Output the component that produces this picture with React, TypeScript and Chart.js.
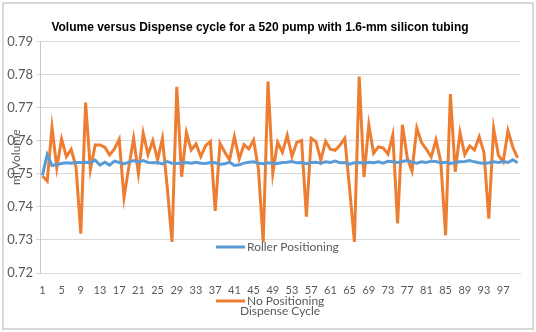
import React, { useEffect, useRef } from "react";
import { Chart, registerables } from "chart.js";

Chart.register(...registerables);

const TITLE = "Volume versus Dispense cycle for a 520 pump with 1.6-mm silicon tubing";
const X_TITLE = "Dispense Cycle";
const Y_TITLE = "ml Volume";

const cycles: string[] = Array.from({ length: 100 }, (_, i) => String(i + 1));

const rollerPositioning: number[] = [
  0.7495, 0.7558, 0.7525, 0.7528, 0.7531, 0.7533, 0.7532, 0.7534, 0.7534, 0.7535,
  0.7534, 0.7541, 0.7526, 0.7535, 0.7526, 0.7538, 0.7534, 0.753, 0.7535, 0.754,
  0.7536, 0.754, 0.7534, 0.7533, 0.7534, 0.753, 0.7537, 0.7532, 0.7531, 0.7533,
  0.7534, 0.7532, 0.7535, 0.7532, 0.7531, 0.7534, 0.7533, 0.7529, 0.753, 0.7535,
  0.7525, 0.7527, 0.7532, 0.7535, 0.7536, 0.7532, 0.753, 0.7533, 0.7532, 0.7531,
  0.7534, 0.7535, 0.7537, 0.7533, 0.7534, 0.753, 0.7534, 0.7535, 0.7532, 0.7536,
  0.7534, 0.7538, 0.7533, 0.7534, 0.7529, 0.7533, 0.7534, 0.7532, 0.7535, 0.7533,
  0.7536, 0.7532, 0.7538, 0.7536, 0.7534, 0.7537, 0.754, 0.7535, 0.7532, 0.7536,
  0.7534, 0.7538, 0.7537, 0.7533, 0.7535, 0.7531, 0.7534, 0.7536, 0.7537, 0.754,
  0.7536, 0.7533, 0.7531, 0.7533, 0.7536, 0.7534, 0.7537, 0.7534, 0.7542, 0.7533,
];

const noPositioning: number[] = [
  0.7493, 0.7478, 0.764, 0.7518, 0.7605, 0.7552, 0.7574, 0.7521, 0.7319, 0.7715,
  0.7513, 0.7587, 0.7587, 0.758, 0.7557, 0.7575, 0.7604, 0.7428, 0.752, 0.7607,
  0.7501, 0.7623, 0.7558, 0.76, 0.7542, 0.7607, 0.746, 0.7294, 0.7763, 0.7491,
  0.7624, 0.7572, 0.759, 0.7552, 0.7585, 0.7598, 0.7388, 0.7592, 0.7565, 0.7542,
  0.7612, 0.7545, 0.7588, 0.7575, 0.7602, 0.7515, 0.7293, 0.7779, 0.7502, 0.7595,
  0.7565, 0.7616, 0.7552, 0.7595, 0.7601, 0.737, 0.7607, 0.7597, 0.7541, 0.7598,
  0.7574, 0.7571, 0.7587, 0.7607, 0.7455, 0.7294, 0.7794, 0.749, 0.7648, 0.7562,
  0.7581, 0.7578, 0.7559, 0.7617, 0.735, 0.7648, 0.7549, 0.7508, 0.7638, 0.7594,
  0.7574, 0.7551, 0.7602, 0.7536, 0.7314, 0.7741, 0.7506, 0.7624, 0.7558, 0.7584,
  0.7572, 0.7612, 0.7564, 0.7364, 0.7637, 0.7556, 0.7536, 0.763, 0.758, 0.7548,
];

const Y_MIN = 0.72;
const Y_MAX = 0.79;
const Y_STEP = 0.01;
const X_LABEL_EVERY = 4;

const BLUE = "#5B9BD5";
const ORANGE = "#ED7D31";
const TEXT = "#595959";
const FONT = "Lato, 'Open Sans', sans-serif";

const decorPlugin = {
  id: "decor",
  beforeDraw(chart: any) {
    const { ctx, width, height } = chart;
    ctx.save();
    ctx.fillStyle = "#ffffff";
    ctx.fillRect(0, 0, width, height);
    ctx.strokeStyle = "#d9d9d9";
    ctx.lineWidth = 2;
    ctx.strokeRect(3, 3, width - 6, height - 6);
    ctx.restore();
  },
  afterDraw(chart: any) {
    const { ctx, chartArea } = chart;
    const cx = (chartArea.left + chartArea.right) / 2;
    const cy = (chartArea.top + chartArea.bottom) / 2;
    ctx.save();
    ctx.font = `12px ${FONT}`;
    ctx.fillStyle = TEXT;
    ctx.textBaseline = "middle";
    const items = [
      { label: "Roller Positioning", color: BLUE, y: 247 },
      { label: "No Positioning", color: ORANGE, y: 301 },
    ];
    items.forEach((it) => {
      ctx.strokeStyle = it.color;
      ctx.lineWidth = 3;
      ctx.beginPath();
      ctx.moveTo(216, it.y);
      ctx.lineTo(245, it.y);
      ctx.stroke();
      ctx.textAlign = "left";
      ctx.fillText(it.label, 247, it.y);
    });
    ctx.textAlign = "center";
    ctx.fillText(X_TITLE, cx, 311);
    ctx.translate(16, cy);
    ctx.rotate(-Math.PI / 2);
    ctx.fillText(Y_TITLE, 0, 0);
    ctx.restore();
  },
};

export default function App() {
  const ref = useRef<HTMLCanvasElement>(null);
  useEffect(() => {
    document.body.style.margin = "0";
    const chart = new Chart(ref.current!, {
      type: "line",
      data: {
        labels: cycles,
        datasets: [
          {
            label: "Roller Positioning",
            data: rollerPositioning,
            borderColor: BLUE,
            backgroundColor: BLUE,
            borderWidth: 3,
            pointRadius: 0,
            tension: 0,
          },
          {
            label: "No Positioning",
            data: noPositioning,
            borderColor: ORANGE,
            backgroundColor: ORANGE,
            borderWidth: 3,
            pointRadius: 0,
            tension: 0,
          },
        ],
      },
      options: {
        animation: false,
        responsive: false,
        layout: { padding: { left: 0, right: 16, top: 0, bottom: 0 } },
        plugins: {
          legend: { display: false },
          tooltip: { enabled: false },
          title: {
            display: true,
            text: TITLE,
            color: "#000000",
            font: { family: "'Liberation Sans', Arial, sans-serif", size: 12, weight: "bold" },
            padding: { top: 20, bottom: 7 },
          },
        },
        scales: {
          x: {
            offset: true,
            grid: { display: false, drawTicks: false },
            border: { display: true, color: "#d9d9d9", width: 1 },
            ticks: {
              autoSkip: false,
              maxRotation: 0,
              padding: 11,
              color: TEXT,
              font: { family: FONT, size: 11 },
              callback: (_v: any, i: number) => (i % X_LABEL_EVERY === 0 ? cycles[i] : ""),
            },
            afterFit: (s: any) => {
              s.height = 59;
            },
          },
          y: {
            min: Y_MIN,
            max: Y_MAX,
            grid: { color: "#d9d9d9", tickLength: 4, lineWidth: 1 },
            border: { display: true, color: "#c0cad6", width: 1 },
            ticks: {
              stepSize: Y_STEP,
              padding: 3,
              color: TEXT,
              font: { family: FONT, size: 13 },
              callback: (v: any) => Number(v).toFixed(2),
            },
            afterFit: (s: any) => {
              s.width = 40;
            },
          },
        },
      },
      plugins: [decorPlugin],
    });
    return () => chart.destroy();
  }, []);
  return (
    <div style={{ width: 536, height: 332 }}>
      <canvas ref={ref} width={536} height={332} style={{ width: 536, height: 332, display: "block" }} />
    </div>
  );
}
